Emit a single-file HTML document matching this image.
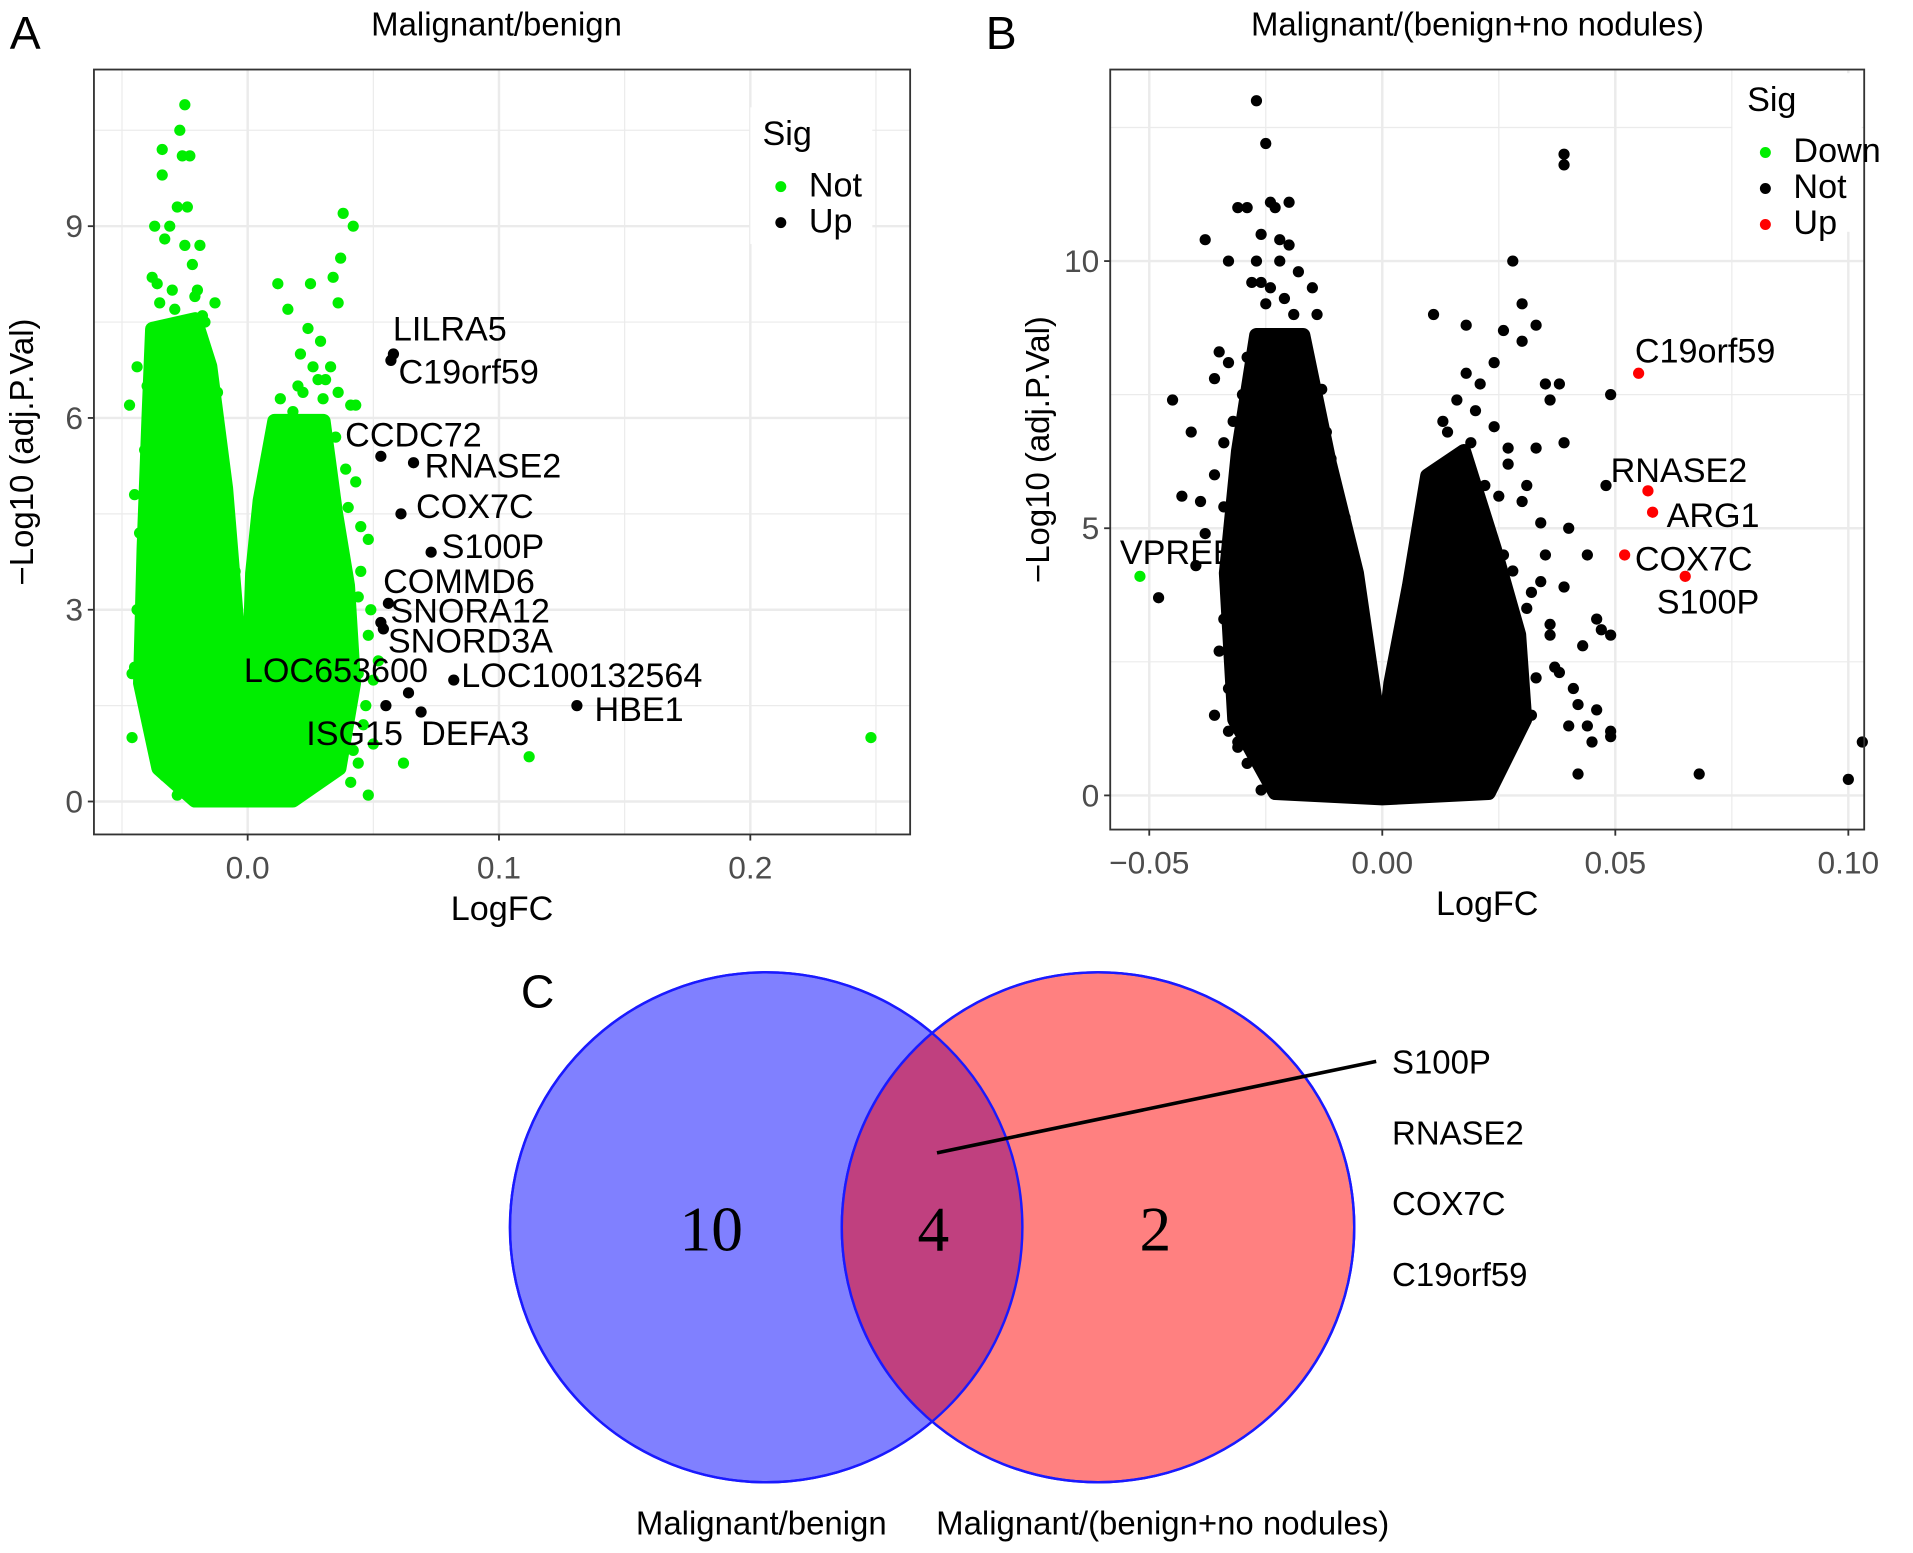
<!DOCTYPE html>
<html><head><meta charset="utf-8"><style>
html,body{margin:0;padding:0;background:#fff;}
svg{display:block;font-family:"Liberation Sans",Arial,sans-serif;}
</style></head><body>
<svg id="fig" width="1913" height="1553" viewBox="0 0 1568 1273" preserveAspectRatio="none" xmlns="http://www.w3.org/2000/svg">
<rect width="1568" height="1273" fill="#fff"/>
<g id="pa"></g>
<g id="pb"></g>
<g id="pc">
  <text x="427" y="826" font-size="38">C</text>
  <ellipse cx="628" cy="1006" rx="210" ry="209" fill="#8080ff" stroke="#1a1aff" stroke-width="2"/>
  <ellipse cx="900" cy="1006" rx="210" ry="209" fill="#ff8080" stroke="#1a1aff" stroke-width="2"/>
  <clipPath id="cl"><ellipse cx="628" cy="1006" rx="210" ry="209"/></clipPath>
  <ellipse cx="900" cy="1006" rx="210" ry="209" fill="#c0407f" clip-path="url(#cl)"/>
  <ellipse cx="628" cy="1006" rx="210" ry="209" fill="none" stroke="#1a1aff" stroke-width="2"/>
  <ellipse cx="900" cy="1006" rx="210" ry="209" fill="none" stroke="#1a1aff" stroke-width="2"/>
  <g font-family="'Liberation Serif',serif" font-size="52" text-anchor="middle">
    <text x="583" y="1025">10</text>
    <text x="765" y="1025">4</text>
    <text x="947" y="1025">2</text>
  </g>
  <line x1="768" y1="945" x2="1128" y2="870" stroke="#000" stroke-width="3"/>
  <g font-size="27">
    <text x="1141" y="880">S100P</text>
    <text x="1141" y="938">RNASE2</text>
    <text x="1141" y="996">COX7C</text>
    <text x="1141" y="1054">C19orf59</text>
    <text x="624" y="1258" text-anchor="middle">Malignant/benign</text>
    <text x="953" y="1258" text-anchor="middle">Malignant/(benign+no nodules)</text>
  </g>
</g>
</svg>
<script>
// ---- Panel A data ----
const aXTicks = [0.0, 0.1, 0.2];
const aXTickLabels = ["0.0", "0.1", "0.2"];
const aYTicks = [0, 3, 6, 9];
const aYTickLabels = ["0", "3", "6", "9"];
const aCore = [[-0.0379,7.39],[-0.0209,7.54],[-0.015,6.81],[-0.0087,4.9],[-0.0039,2.61],[0,1.28],[0.0019,3.57],[0.0049,4.71],[0.0107,5.95],[0.0301,5.95],[0.035,4.52],[0.0398,3.38],[0.0422,1.85],[0.0364,0.52],[0.018,0.02],[-0.021,0.02],[-0.0354,0.52],[-0.0427,1.85],[-0.0413,3.95],[-0.0393,6.05]];
const aNotX = [-0.047,-0.045,-0.046,-0.04,-0.035,-0.033,-0.028,-0.025,-0.027,-0.034,-0.026,-0.023,-0.034,-0.028,-0.024,-0.037,-0.031,-0.038,-0.036,-0.019,-0.013,-0.044,-0.04,0.012,0.016,0.024,0.029,0.036,0.034,0.025,0.037,0.038,0.042,0.033,0.021,0.02,0.013,0.041,0.043,0.035,0.032,0.045,0.048,0.049,0.048,0.044,0.05,0.046,0.048,0.062,0.112,0.248,0.04,0.042,0.052,-0.039,-0.042,0.038,0.044,
 -0.022,-0.02,-0.025,-0.018,-0.03,-0.035,-0.029,-0.021,-0.017,-0.041,-0.043,-0.038,-0.039,-0.012,-0.01,0.008,0.006,0.026,0.031,0.036,0.039,0.043,0.045,0.03,0.018,0.022,0.028,-0.044,-0.046,0.047,0.05,0.044,0.041,0.015,0.012,-0.005,-0.007,-0.045,-0.033,0.04,0.037,0.034];
const aNotY = [6.2,2.1,2.0,2.4,1.3,0.4,0.1,10.9,10.5,10.2,10.1,10.1,9.8,9.3,9.3,9.0,9.0,8.2,8.1,8.7,7.8,6.8,6.5,8.1,7.7,7.4,7.2,7.8,8.2,8.1,8.5,9.2,9.0,6.8,7.0,6.5,6.3,6.2,6.2,5.7,5.5,4.3,4.1,3.0,2.6,2.0,1.9,1.2,0.1,0.6,0.7,1.0,1.5,0.8,2.2,4.0,3.5,3.6,3.2,
 8.4,8.0,8.7,7.6,8.0,7.8,7.7,7.9,7.5,5.5,4.2,6.6,3.0,6.4,5.2,4.0,3.2,6.8,6.6,6.4,5.2,5.0,3.6,6.3,6.1,6.4,6.6,3.0,1.0,1.5,0.9,0.6,0.3,0.4,0.2,3.6,2.6,4.8,8.8,4.6,3.2,2.7];
const aUpNames = ["LILRA5","C19orf59","CCDC72","RNASE2","COX7C","S100P","COMMD6","SNORA12","SNORD3A","LOC653600","LOC100132564","HBE1","ISG15","DEFA3"];
const aUpX = [0.058,0.057,0.053,0.066,0.061,0.073,0.056,0.053,0.054,0.064,0.082,0.131,0.055,0.069];
const aUpY = [7.0,6.9,5.4,5.3,4.5,3.9,3.1,2.8,2.7,1.7,1.9,1.5,1.5,1.4];
const aLabX = [0.0578,0.060,0.0388,0.0704,0.067,0.0772,0.0539,0.0568,0.0558,-0.0015,0.085,0.138,0.0233,0.069];
const aLabY = [7.25,6.58,5.59,5.11,4.47,3.85,3.30,2.84,2.37,1.91,1.83,1.30,0.92,0.92];
// ---- Panel B data ----
const bXTicks = [-0.05, 0, 0.05, 0.10];
const bXTickLabels = ["-0.05", "0.00", "0.05", "0.10"];
const bYTicks = [0, 5, 10];
const bYTickLabels = ["0", "5", "10"];
const bCore = [[-0.027,8.61],[-0.017,8.61],[-0.0113,6.21],[-0.0055,4.16],[-0.0013,1.64],[0,0.73],[0.0018,2.1],[0.0058,3.93],[0.0097,5.98],[0.0175,6.44],[0.0241,4.61],[0.0293,3.01],[0.0306,1.42],[0.0228,0.05],[0,-0.05],[-0.023,0.05],[-0.0317,1.42],[-0.0335,4.16],[-0.0309,6.44]];
const bNotX = [-0.027,-0.025,-0.031,-0.029,-0.024,-0.02,-0.023,-0.038,-0.026,-0.022,-0.02,-0.033,-0.027,-0.022,-0.018,-0.028,-0.015,-0.025,-0.014,-0.035,-0.033,-0.036,-0.045,-0.041,-0.034,-0.031,-0.043,-0.039,-0.038,-0.032,-0.009,-0.04,-0.048,-0.034,-0.03,-0.035,-0.032,-0.027,-0.033,-0.031,-0.026,-0.028,0.039,0.039,0.028,0.011,0.03,0.018,0.026,0.03,0.033,0.024,0.018,0.035,0.038,0.049,0.036,0.014,0.039,0.033,0.027,0.048,0.034,0.04,0.044,0.035,0.039,0.046,0.049,0.043,0.038,0.042,0.04,0.044,0.049,0.049,0.045,0.042,0.068,0.1,0.103,0.032,0.028,0.031,0.036,0.026,0.03,0.022,0.02,
 -0.024,-0.021,-0.019,-0.016,-0.013,-0.012,-0.026,-0.029,-0.03,-0.032,-0.036,-0.034,-0.011,-0.008,-0.007,0.008,0.006,0.013,0.016,0.021,0.024,0.027,0.031,0.034,0.022,0.019,0.025,0.028,0.032,0.036,-0.033,-0.036,-0.029,-0.031,0.033,0.037,0.041,0.046,0.047];
const bNotY = [13.0,12.2,11.0,11.0,11.1,11.1,11.0,10.4,10.5,10.4,10.3,10.0,10.0,10.0,9.8,9.6,9.5,9.2,9.0,8.3,8.1,7.8,7.4,6.8,6.6,6.3,5.6,5.5,4.9,4.9,5.1,4.3,3.7,3.3,3.3,2.7,2.6,2.1,1.2,1.0,0.1,2.0,12.0,11.8,10.0,9.0,9.2,8.8,8.7,8.5,8.8,8.1,7.9,7.7,7.7,7.5,7.4,6.8,6.6,6.5,6.5,5.8,5.1,5.0,4.5,4.5,3.9,3.3,3.0,2.8,2.3,1.7,1.3,1.3,1.2,1.1,1.0,0.4,0.4,0.3,1.0,1.5,2.5,3.5,3.0,4.5,5.5,5.8,7.2,
 9.5,9.3,9.0,8.0,7.6,6.8,9.6,8.2,7.5,7.0,6.0,5.4,6.3,5.2,4.5,4.5,3.5,7.0,7.4,7.7,6.9,6.2,5.8,4.0,5.2,6.6,5.6,4.2,3.8,3.2,2.0,1.5,0.6,0.9,2.2,2.4,2.0,1.6,3.1];
const bUpNames = ["C19orf59","RNASE2","ARG1","COX7C","S100P"];
const bUpX = [0.055,0.057,0.058,0.052,0.065];
const bUpY = [7.9,5.7,5.3,4.5,4.1];
const bUpLabX = [0.0542,0.049,0.061,0.0542,0.0589];
const bUpLabY = [8.15,5.91,5.07,4.25,3.45];
const bDownNames = ["VPREB3"];
const bDownX = [-0.052];
const bDownY = [4.1];
const bDownLabX = [-0.0563];
const bDownLabY = [4.38];

const NS = "http://www.w3.org/2000/svg";
function mk(parent, tag, attrs, txt){
  const e = document.createElementNS(NS, tag);
  for (const k in attrs) e.setAttribute(k, attrs[k]);
  if (txt !== undefined) e.textContent = txt;
  parent.appendChild(e);
  return e;
}
function panel(g, cfg){
  const sx = v => cfg.x0 + (v - cfg.xmin) / (cfg.xmax - cfg.xmin) * (cfg.x1 - cfg.x0);
  const sy = v => cfg.y1 - (v - cfg.ymin) / (cfg.ymax - cfg.ymin) * (cfg.y1 - cfg.y0);
  const bg = mk(g, "rect", {x:cfg.x0, y:cfg.y0, width:cfg.x1-cfg.x0, height:cfg.y1-cfg.y0, fill:"#fff"});
  
  
  const grid = mk(g, "g", {stroke:"#ebebeb"});
  
  
  const xs = cfg.xTicks, ys = cfg.yTicks;
  const dx = xs[1]-xs[0], dy = ys[1]-ys[0];
  for (let v = xs[0]-dx/2; v <= cfg.xmax; v += dx/2) {
    if (v < cfg.xmin) continue;
    const major = Math.abs(((v - xs[0]) / dx) - Math.round((v - xs[0]) / dx)) < 1e-6;
    mk(grid, "line", {x1:sx(v), x2:sx(v), y1:cfg.y0, y2:cfg.y1, "stroke-width": major?2:1});
  }
  for (let v = ys[0]-dy/2; v <= cfg.ymax; v += dy/2) {
    if (v < cfg.ymin) continue;
    const major = Math.abs(((v - ys[0]) / dy) - Math.round((v - ys[0]) / dy)) < 1e-6;
    mk(grid, "line", {y1:sy(v), y2:sy(v), x1:cfg.x0, x2:cfg.x1, "stroke-width": major?2:1});
  }
  const lb = mk(g, "rect", cfg.legendBox);
  
  
  const core = mk(g, "polygon", {points: cfg.core.map(p => sx(p[0]) + "," + sy(p[1])).join(" "), fill: cfg.coreColor, stroke: cfg.coreColor, "stroke-width": 12, "stroke-linejoin":"round"});
  
  
  const pts = mk(g, "g", {});
  
  
  cfg.series.forEach(s => {
    s.x.forEach((xv, i) => {
      const c = mk(pts, "circle", {cx:sx(xv), cy:sy(s.y[i]), r:4.6, fill:s.color});
      
      
    });
    if (s.names) s.names.forEach((n, i) => {
      const t = mk(pts, "text", {x:sx(s.lx[i]), y:sy(s.ly[i]) + 2, "font-size":28, fill:"#000"}, n);
      
      
    });
  });
  const fr = mk(g, "rect", {x:cfg.x0, y:cfg.y0, width:cfg.x1-cfg.x0, height:cfg.y1-cfg.y0, fill:"none", stroke:"#333", "stroke-width":1.5});
  
  
  xs.forEach((v, i) => {
    mk(g, "line", {x1:sx(v), x2:sx(v), y1:cfg.y1, y2:cfg.y1+5, stroke:"#333", "stroke-width":1.5});
    const t = mk(g, "text", {x:sx(v), y:cfg.y1+36, "font-size":26, "text-anchor":"middle", fill:"#4d4d4d"}, cfg.xLabels[i].replace("-", "\u2212"));
    
    
  });
  ys.forEach((v, i) => {
    mk(g, "line", {x1:cfg.x0-5, x2:cfg.x0, y1:sy(v), y2:sy(v), stroke:"#333", "stroke-width":1.5});
    const t = mk(g, "text", {x:cfg.x0-9, y:sy(v)+9, "font-size":26, "text-anchor":"end", fill:"#4d4d4d"}, cfg.yLabels[i]);
    
    
  });
  const xt = mk(g, "text", {x:(cfg.x0+cfg.x1)/2, y:cfg.y1+70, "font-size":28, "text-anchor":"middle"}, "LogFC");
  
  
  const yx = cfg.x0 - 50, yy = (cfg.y0+cfg.y1)/2;
  const yt = mk(g, "text", {x:yx, y:yy, "font-size":27, "text-anchor":"middle", transform:"rotate(-90 "+yx+" "+yy+")"}, "\u2212Log10 (adj.P.Val)");
  
  
  const ti = mk(g, "text", {x:cfg.titleX, y:29, "font-size":27, "text-anchor":"middle"}, cfg.title);
  
  
  const le = mk(g, "text", {x:cfg.letterX, y:40, "font-size":38}, cfg.letter);
  
  
  const lg = mk(g, "g", {});
  
  
  mk(lg, "text", {x:cfg.legend.x, y:cfg.legend.y, "font-size":28}, "Sig");
  cfg.legend.items.forEach((it, i) => {
    const yy2 = cfg.legend.y + 33 + i*29.5;
    mk(lg, "circle", {cx:cfg.legend.x+15, cy:yy2+1, r:4.5, fill:it[1]});
    const t = mk(lg, "text", {x:cfg.legend.x+38, y:yy2+9, "font-size":28}, it[0]);
    
    
  });
}
panel(document.getElementById("pa"), {
  x0:77, x1:746, y0:57, y1:684,
  xmin:(77-203)/2060, xmax:(746-203)/2060, ymin:(657-684)/52.4, ymax:(657-57)/52.4,
  xTicks:aXTicks, xLabels:aXTickLabels, yTicks:aYTicks, yLabels:aYTickLabels,
  core:aCore, coreColor:"#00ee00",
  series:[{key:"not", x:aNotX, y:aNotY, color:"#00ee00"},
          {key:"up", x:aUpX, y:aUpY, color:"#000", names:aUpNames, lx:aLabX, ly:aLabY}],
  legendBox:{x:615, y:88, width:100, height:112, fill:"#fff"},
  legend:{x:625, y:119, items:[["Not","#00ee00"],["Up","#000"]]},
  title:"Malignant/benign", titleX:407, letter:"A", letterX:8
});
panel(document.getElementById("pb"), {
  x0:910, x1:1528, y0:57, y1:680,
  xmin:(910-1133)/3820, xmax:(1528-1133)/3820, ymin:(652-680)/43.8, ymax:(652-57)/43.8,
  xTicks:bXTicks, xLabels:bXTickLabels, yTicks:bYTicks, yLabels:bYTickLabels,
  core:bCore, coreColor:"#000",
  series:[{key:"not", x:bNotX, y:bNotY, color:"#000"},
          {key:"up", x:bUpX, y:bUpY, color:"#ff0000", names:bUpNames, lx:bUpLabX, ly:bUpLabY},
          {key:"down", x:bDownX, y:bDownY, color:"#00ee00", names:bDownNames, lx:bDownLabX, ly:bDownLabY}],
  legendBox:{x:1420, y:60, width:106, height:130, fill:"#fff"},
  legend:{x:1432, y:91, items:[["Down","#00ee00"],["Not","#000"],["Up","#ff0000"]]},
  title:"Malignant/(benign+no nodules)", titleX:1211, letter:"B", letterX:808
});
</script>
</body></html>
